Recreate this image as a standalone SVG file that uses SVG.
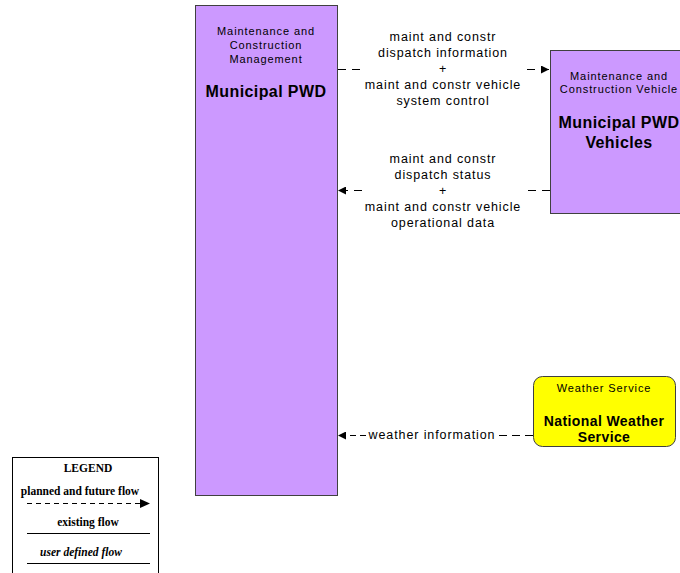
<svg xmlns="http://www.w3.org/2000/svg" width="680" height="573" viewBox="0 0 680 573">
<style>
.node{fill:#CC99FF;stroke:#404040;stroke-width:1}
.ws{fill:#FFFF00;stroke:#404040;stroke-width:1}
.t{font-family:"Liberation Sans",Arial,sans-serif;fill:#000;text-anchor:middle}
.s{font-size:11px;letter-spacing:0.9px}
.f{font-size:12.5px;letter-spacing:0.9px}
.b{font-size:16px;font-weight:bold;letter-spacing:0.4px}
.d{stroke:#000;stroke-width:1;stroke-dasharray:8,6;fill:none}
.l{stroke:#000;stroke-width:1;fill:none}
.lg{font-family:"Liberation Serif","Times New Roman",serif;font-weight:bold;font-size:11.5px;text-anchor:middle}
</style>
<defs>
<marker id="ah" markerWidth="8" markerHeight="8" refX="8" refY="4" orient="auto" markerUnits="userSpaceOnUse">
<path d="M0,0 L8,4 L0,8 Z" fill="#000"/>
</marker>
</defs>
<rect width="680" height="573" fill="#fff"/>
<g id="pwd">
<rect class="node" x="195.5" y="5.5" width="142" height="490"/>
<text class="t s" x="266" y="35">Maintenance and</text>
<text class="t s" x="266" y="49">Construction</text>
<text class="t s" x="266" y="63">Management</text>
<text class="t b" x="266" y="97">Municipal PWD</text>
</g>
<g id="vehicles">
<rect class="node" x="550.5" y="50.5" width="140" height="163"/>
<text class="t s" x="619" y="80">Maintenance and</text>
<text class="t s" x="619" y="93">Construction Vehicle</text>
<text class="t b" x="619" y="128">Municipal PWD</text>
<text class="t b" x="619" y="148">Vehicles</text>
</g>
<g id="weather">
<rect class="ws" x="533.5" y="376.5" width="142" height="70" rx="9"/>
<text class="t s" x="604" y="392">Weather Service</text>
<text class="t b" x="604" y="426" style="font-size:14px">National Weather</text>
<text class="t b" x="604" y="442" style="font-size:14px">Service</text>
</g>
<g id="connectors">
<path class="d" d="M338,69.5 H362"/>
<path class="d" d="M527,69.5 H549" marker-end="url(#ah)"/>
<text class="t f" x="443" y="41">maint and constr</text>
<text class="t f" x="443" y="57">dispatch information</text>
<text class="t f" x="443" y="73">+</text>
<text class="t f" x="443" y="89">maint and constr vehicle</text>
<text class="t f" x="443" y="105">system control</text>
<path class="d" d="M550,190.5 H527"/>
<path class="d" d="M362,190.5 H338" marker-end="url(#ah)"/>
<text class="t f" x="443" y="163">maint and constr</text>
<text class="t f" x="443" y="179">dispatch status</text>
<text class="t f" x="443" y="195">+</text>
<text class="t f" x="443" y="211">maint and constr vehicle</text>
<text class="t f" x="443" y="227">operational data</text>
<path class="d" d="M533,435.5 H499" style="stroke-dasharray:8,5"/>
<path class="d" d="M366,435.5 H338" marker-end="url(#ah)" style="stroke-dasharray:6,4"/>
<text class="t f" x="432" y="439">weather information</text>
</g>
<g id="legend">
<rect x="12.5" y="457.5" width="146" height="130" fill="#fff" stroke="#000"/>
<text class="lg" x="88" y="472">LEGEND</text>
<text class="lg" x="80" y="495">planned and future flow</text>
<path class="l" d="M27,503.5 H142" style="stroke-dasharray:5,4"/>
<path d="M140,499 L150,503.5 L140,508 Z" fill="#000"/>
<text class="lg" x="88" y="526">existing flow</text>
<path class="l" d="M27,533.5 H150"/>
<text class="lg" x="81" y="556" style="font-style:italic">user defined flow</text>
<path class="l" d="M27,563.5 H150"/>
</g>
</svg>
